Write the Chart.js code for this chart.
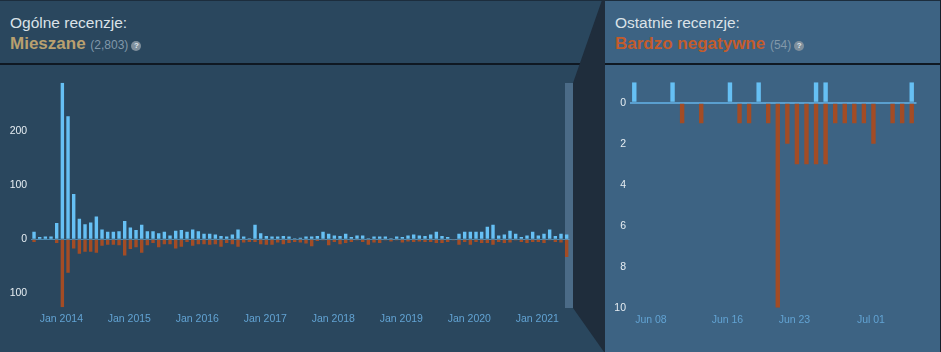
<!DOCTYPE html>
<html><head><meta charset="utf-8">
<script src="https://cdn.jsdelivr.net/npm/chart.js@4.4.0/dist/chart.umd.min.js"></script>
<style>
html,body{margin:0;padding:0;width:941px;height:352px;overflow:hidden;background:#2a475e;font-family:Arial,"Liberation Sans",sans-serif;}
.abs{position:absolute;}
#left{left:0;top:0;width:605px;height:352px;background:#2a475e;}
#right{left:605px;top:0;width:335px;height:352px;background:#3d6383;}
#rborder{left:940px;top:0;width:1px;height:352px;background:#16202b;}
#topline{left:0;top:0;width:941px;height:1px;background:#1c2d3d;}
#sepL{left:0;top:63px;width:600px;height:2px;background:#0f1822;}
#sepR{left:605px;top:63px;width:335px;height:2px;background:#0f1822;}
#conn{left:560px;top:0;width:46px;height:352px;background:#1f2d3c;clip-path:polygon(42px 0,45px 0,45px 352px,44px 352px,13px 308px,13px 83px);}
#scroll{left:565px;top:83px;width:8px;height:225px;background:#4b6b87;}
.title{font-size:15.5px;line-height:18px;color:#dbe2e8;white-space:nowrap;}
.rating{font-size:17px;line-height:20px;font-weight:bold;white-space:nowrap;}
.count{font-size:12px;font-weight:normal;color:#8198aa;}
.q{display:inline-block;width:10px;height:10px;border-radius:50%;background:#7f8f9c;color:#dfe6ec;font-size:8px;line-height:10px;text-align:center;font-weight:bold;vertical-align:1px;margin-left:3px;}
#lc{left:0;top:65px;width:573px;height:287px;}
#rc{left:605px;top:65px;width:335px;height:287px;}
</style></head>
<body>
<div id="left" class="abs"></div>
<div id="right" class="abs"></div>
<div id="topline" class="abs"></div>
<div id="sepL" class="abs"></div>
<div id="sepR" class="abs"></div>
<div id="scroll" class="abs"></div>
<div id="conn" class="abs"></div>
<div id="rborder" class="abs"></div>

<div class="abs title" style="left:10px;top:14px;">Ogólne recenzje:</div>
<div class="abs rating" style="left:10px;top:34px;color:#b9a06f;">Mieszane <span class="count">(2,803)</span><span class="q">?</span></div>
<div class="abs title" style="left:615px;top:14px;">Ostatnie recenzje:</div>
<div class="abs rating" style="left:615px;top:34px;color:#c35c2c;">Bardzo negatywne <span class="count">(54)</span><span class="q">?</span></div>

<div id="lc" class="abs"><canvas id="leftCanvas"></canvas></div>
<div id="rc" class="abs"><canvas id="rightCanvas"></canvas></div>

<script>
// ---- Overall (monthly, Aug 2013 – Jun 2021) ----
const monthNames = ['Jan','Feb','Mar','Apr','May','Jun','Jul','Aug','Sep','Oct','Nov','Dec'];
const monthLabels = [];
for (let y = 2013; y <= 2021; y++) {
  for (let m = 0; m < 12; m++) {
    if (y === 2013 && m < 7) continue;
    if (y === 2021 && m > 5) continue;
    monthLabels.push(monthNames[m] + ' ' + y);
  }
}
const overallPositive = [14,4,5,5,30,290,228,84,38,28,31,42,18,14,14,15,34,22,17,27,15,15,11,14,7,16,17,14,18,15,10,10,9,6,5,9,18,5,2,27,11,6,5,5,6,5,2,3,5,5,6,14,10,7,6,10,4,7,7,2,5,5,5,2,5,4,7,9,7,6,9,14,6,4,1,10,14,14,14,14,23,27,7,9,16,10,4,7,14,7,10,18,6,10,9];
const overallNegative = [5,0,0,0,7,126,62,17,27,23,23,25,12,10,10,11,30,18,15,25,11,7,15,9,9,17,14,5,12,9,9,10,9,14,7,9,14,6,5,5,9,10,10,6,9,7,5,6,8,13,3,2,11,5,9,7,5,2,5,10,6,7,2,4,2,6,4,5,4,5,5,7,7,5,2,10,5,10,5,7,7,10,5,7,6,2,5,7,5,5,7,2,5,6,33];
const leftTickLabels = ['Jan 2014','Jan 2015','Jan 2016','Jan 2017','Jan 2018','Jan 2019','Jan 2020','Jan 2021'];
const leftYTicks = [-100, 0, 100, 200];

// ---- Recent (daily, Jun 06 – Jul 05) ----
const recentDates = ['Jun 06','Jun 07','Jun 08','Jun 09','Jun 10','Jun 11','Jun 12','Jun 13','Jun 14','Jun 15','Jun 16','Jun 17','Jun 18','Jun 19','Jun 20','Jun 21','Jun 22','Jun 23','Jun 24','Jun 25','Jun 26','Jun 27','Jun 28','Jun 29','Jun 30','Jul 01','Jul 02','Jul 03','Jul 04','Jul 05'];
const recentPositive = [1,0,0,0,1,0,0,0,0,0,1,0,0,1,0,0,0,0,0,1,1,0,0,0,0,0,0,0,0,1];
const recentNegative = [0,0,0,0,0,1,0,1,0,0,0,1,1,0,1,10,2,3,3,3,3,1,1,1,1,2,0,1,1,1];
const rightTickLabels = ['Jun 08','Jun 16','Jun 23','Jul 01'];
const rightYTicks = [-10,-8,-6,-4,-2,0];

const POS = '#66c0f4', NEG = '#a34c25';
Chart.defaults.font.family = 'Arial, "Liberation Sans", sans-serif';

function makeChart(id, labels, pos, neg, tickLabels, yTicks, o) {
  return new Chart(document.getElementById(id), {
    type: 'bar',
    data: {
      labels: labels,
      datasets: [
        {data: pos, backgroundColor: POS, stack: 's', barPercentage: o.bp, categoryPercentage: 1},
        {data: neg.map(v => -v), backgroundColor: NEG, stack: 's', barPercentage: o.bp, categoryPercentage: 1}
      ]
    },
    options: {
      responsive: true, maintainAspectRatio: false, animation: false,
      layout: {padding: {top: o.padTop, right: o.padRight, left: 0, bottom: 0}},
      plugins: {legend: {display: false}, tooltip: {enabled: false}},
      scales: {
        x: {
          stacked: true,
          grid: {display: false, drawTicks: false}, border: {display: false},
          ticks: {
            autoSkip: false, maxRotation: 0, minRotation: 0, padding: 6,
            labelOffset: o.labelOffset,
            color: '#62a3d3', font: {size: 10.5},
            callback: function(v) { const l = this.getLabelForValue(v); return tickLabels.includes(l) ? l : ''; }
          },
          afterFit: s => { s.height = o.xHeight; }
        },
        y: {
          stacked: true,
          min: -Math.max(...neg), max: Math.max(...pos),
          afterBuildTicks: s => { s.ticks = yTicks.map(v => ({value: v})); },
          grid: {drawTicks: false, lineWidth: o.zeroWidth,
                 color: c => (c.tick && c.tick.value === 0) ? o.zeroColor : 'rgba(0,0,0,0)'},
          border: {display: false},
          ticks: {padding: o.yPad, color: '#e6edf2', font: {size: 10.5}, callback: v => Math.abs(v)},
          afterFit: s => { s.width = o.yWidth; }
        }
      }
    }
  });
}

makeChart('leftCanvas', monthLabels, overallPositive, overallNegative, leftTickLabels, leftYTicks,
  {bp: 0.6, padTop: 17.7, padRight: 3.5, xHeight: 44.7, yWidth: 31.2, yPad: 4, labelOffset: -1,
   zeroColor: 'rgba(102,192,244,0.55)', zeroWidth: 1});

makeChart('rightCanvas', recentDates, recentPositive, recentNegative, rightTickLabels, rightYTicks,
  {bp: 0.46, padTop: 17.2, padRight: 23.5, xHeight: 44.3, yWidth: 24.5, yPad: 3.5, labelOffset: -2.5,
   zeroColor: '#5a9fcf', zeroWidth: 2});
</script>
</body></html>
